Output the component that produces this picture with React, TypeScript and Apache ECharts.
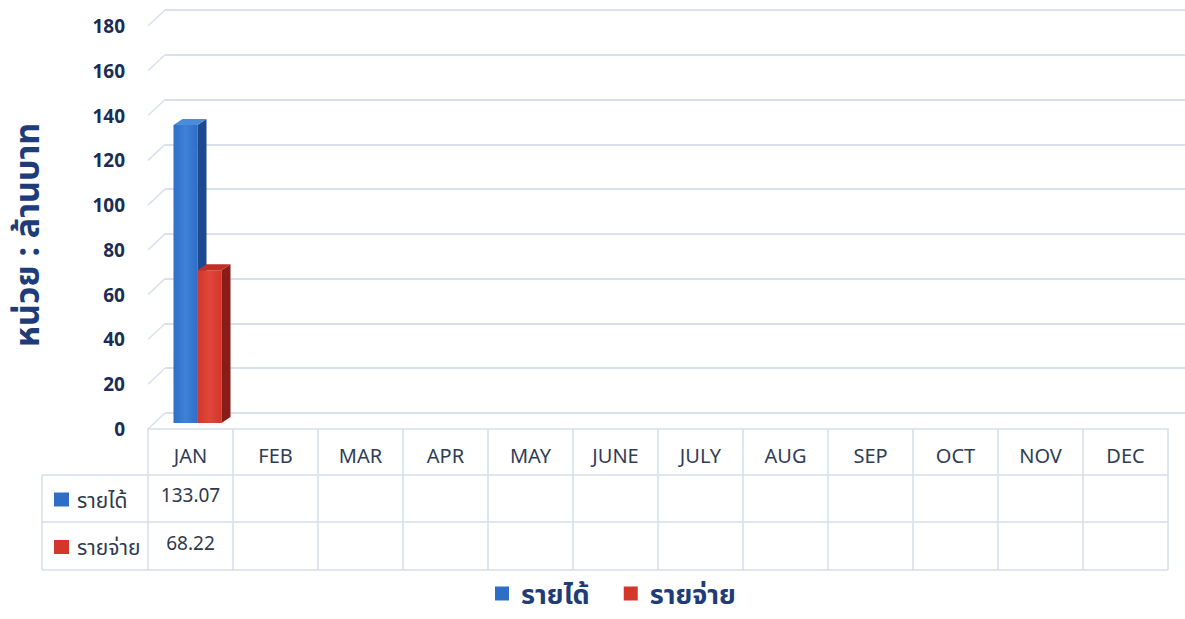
import React, { useEffect, useRef } from "react";
import * as echarts from "echarts";

const months = ["JAN", "FEB", "MAR", "APR", "MAY", "JUNE", "JULY", "AUG", "SEP", "OCT", "NOV", "DEC"];
const income: (number | null)[] = [133.07, null, null, null, null, null, null, null, null, null, null, null];
const expense: (number | null)[] = [68.22, null, null, null, null, null, null, null, null, null, null, null];
const seriesNames = ["รายได้", "รายจ่าย"];
const yTicks = [0, 20, 40, 60, 80, 100, 120, 140, 160, 180];
const axisTitle = "หน่วย : ล้านบาท";

const FONT = "'Noto Sans', 'Noto Sans Thai', sans-serif";
const BLUE = { front: "#2f6ec6", frontLight: "#3d82d8", side: "#1d4a8f", top: "#4a8bdb" };
const RED = { front: "#d4362c", frontLight: "#e0463a", side: "#8a1c18", top: "#c02e26" };
const TABLE_LINE = "#d5deea";

export default function App() {
  const ref = useRef<HTMLDivElement>(null);
  useEffect(() => {
    if (!ref.current) return;
    const chart = echarts.init(ref.current, null, { renderer: "svg" });

    const FRONT = { left: 148, top: 26, width: 1020, height: 403 };
    const BACK = { left: 165, top: 10, right: 0, height: 403 };
    const BARS = { left: 155, top: 20, width: 1020, height: 403 };
    const DX = 17, DY = 16;

    const makeBar = (colors: typeof BLUE, shift: number) => (params: any, api: any) => {
      const idx = api.value(0);
      const val = api.value(1);
      const top = api.coord([idx, val]);
      const base = api.coord([idx, 0]);
      const bw = 24, dx = 9, dy = 6;
      const x0 = top[0] + shift * bw;
      const yT = top[1], yB = base[1];
      return {
        type: "group",
        children: [
          {
            type: "rect",
            shape: { x: x0, y: yT, width: bw, height: yB - yT },
            style: {
              fill: new echarts.graphic.LinearGradient(0, 0, 1, 0, [
                { offset: 0, color: colors.front },
                { offset: 0.5, color: colors.frontLight },
                { offset: 1, color: colors.front },
              ]),
            },
          },
          {
            type: "polygon",
            shape: { points: [[x0 + bw, yT], [x0 + bw + dx, yT - dy], [x0 + bw + dx, yB - dy], [x0 + bw, yB]] },
            style: { fill: colors.side },
          },
          {
            type: "polygon",
            shape: { points: [[x0, yT], [x0 + dx, yT - dy], [x0 + bw + dx, yT - dy], [x0 + bw, yT]] },
            style: { fill: colors.top },
          },
        ],
      };
    };

    const rowY = [475, 522, 570];
    const tableLeft = 42, tableRight = 1168;
    const graphics: any[] = [];
    rowY.forEach((y) =>
      graphics.push({ type: "line", shape: { x1: tableLeft, y1: y, x2: tableRight, y2: y }, style: { stroke: TABLE_LINE, lineWidth: 1.5 } })
    );
    graphics.push({ type: "line", shape: { x1: tableLeft, y1: rowY[0], x2: tableLeft, y2: rowY[2] }, style: { stroke: TABLE_LINE, lineWidth: 1.5 } });
    [BLUE.front, RED.front].forEach((c, i) => {
      const cy = (rowY[i] + rowY[i + 1]) / 2 + 1;
      graphics.push({ type: "rect", shape: { x: 54, y: cy - 7, width: 15, height: 14 }, style: { fill: c } });
      graphics.push({
        type: "text",
        style: { x: 77, y: cy, text: seriesNames[i], fill: "#2e3a4c", font: `21px ${FONT}`, verticalAlign: "middle" },
      });
    });
    graphics.push({
      type: "text",
      x: 26,
      y: 235,
      rotation: Math.PI / 2,
      style: {
        text: axisTitle,
        fill: "#1d3c78",
        font: `bold 34px ${FONT}`,
        align: "center",
        verticalAlign: "middle",
      },
    });

    const fmt = (arr: (number | null)[]) => (_: any, i: number) => (arr[i] == null ? "" : (arr[i] as number).toFixed(2));

    chart.setOption({
      animation: false,
      backgroundColor: "#ffffff",
      textStyle: { fontFamily: FONT },
      grid: [
        { ...FRONT },
        { ...BACK },
        { ...BARS },
      ],
      legend: {
        data: seriesNames,
        bottom: 7,
        left: 490,
        icon: "rect",
        itemWidth: 14,
        itemHeight: 14,
        itemGap: 34,
        textStyle: { fontSize: 27, fontWeight: "bold", color: "#1d3c78", fontFamily: FONT, padding: [0, 0, 0, 7] },
      },
      xAxis: [
        {
          type: "category",
          gridIndex: 0,
          data: months,
          axisLine: { show: true, lineStyle: { color: TABLE_LINE, width: 1.5 } },
          axisTick: { show: true, length: 141, lineStyle: { color: TABLE_LINE, width: 1.5 } },
          axisLabel: { color: "#2f3d55", fontSize: 20, margin: 26, verticalAlign: "middle" },
          splitLine: { show: false },
        },
        {
          type: "category",
          gridIndex: 0,
          position: "bottom",
          offset: 40,
          data: months,
          axisLine: { show: false },
          axisTick: { show: false },
          axisLabel: { color: "#2e3a4c", fontSize: 19, margin: 26, verticalAlign: "middle", formatter: fmt(income) },
        },
        {
          type: "category",
          gridIndex: 0,
          position: "bottom",
          offset: 88,
          data: months,
          axisLine: { show: false },
          axisTick: { show: false },
          axisLabel: { color: "#2e3a4c", fontSize: 19, margin: 26, verticalAlign: "middle", formatter: fmt(expense) },
        },
        { type: "category", gridIndex: 1, data: months, show: false },
        { type: "category", gridIndex: 2, data: months, show: false },
      ],
      yAxis: [
        {
          type: "value",
          gridIndex: 0,
          min: 0,
          max: 180,
          interval: 20,
          axisLine: { show: false },
          axisTick: { show: false },
          splitLine: { show: false },
          axisLabel: { color: "#1b2d55", fontSize: 19, fontWeight: "bold", margin: 23 },
        },
        {
          type: "value",
          gridIndex: 1,
          min: 0,
          max: 180,
          interval: 20,
          axisLine: { show: false },
          axisTick: { show: false },
          axisLabel: { show: false },
          splitLine: { show: true, lineStyle: { color: "#d9e1ee", width: 1.8 } },
        },
        { type: "value", gridIndex: 2, min: 0, max: 180, interval: 20, show: false, splitLine: { show: false } },
      ],
      series: [
        {
          type: "custom",
          name: "diag",
          xAxisIndex: 0,
          yAxisIndex: 0,
          silent: true,
          data: yTicks.map((v) => [0, v]),
          renderItem: (params: any, api: any) => {
            const p = api.coord([0, api.value(1)]);
            const x = params.coordSys.x;
            return {
              type: "line",
              shape: { x1: x, y1: p[1], x2: x + DX, y2: p[1] - DY },
              style: { stroke: "#d9e1ee", lineWidth: 1.5 },
            };
          },
        },
        {
          type: "custom",
          name: seriesNames[0],
          xAxisIndex: 4,
          yAxisIndex: 2,
          itemStyle: { color: BLUE.front },
          data: income.map((v, i) => [i, v]).filter((d) => d[1] != null),
          renderItem: makeBar(BLUE, -1),
        },
        {
          type: "custom",
          name: seriesNames[1],
          xAxisIndex: 4,
          yAxisIndex: 2,
          itemStyle: { color: RED.front },
          data: expense.map((v, i) => [i, v]).filter((d) => d[1] != null),
          renderItem: makeBar(RED, 0),
        },
      ],
      graphic: graphics,
    });
    return () => chart.dispose();
  }, []);
  return <div ref={ref} style={{ position: "fixed", left: 0, top: 0, width: 1185, height: 619 }} />;
}
